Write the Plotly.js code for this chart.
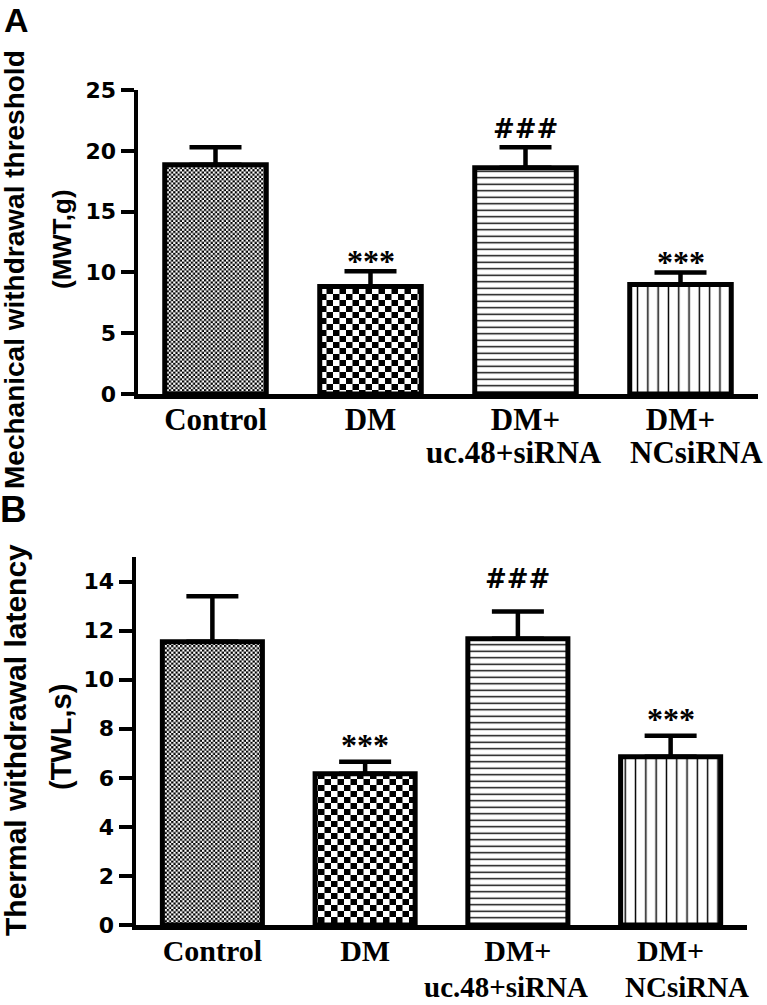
<!DOCTYPE html>
<html>
<head>
<meta charset="utf-8">
<script src="https://cdn.plot.ly/plotly-3.0.1.min.js"></script>
<style>
  html, body { margin: 0; padding: 0; background: #fff; }
  #chart { width: 767px; height: 1005px; }
</style>
</head>
<body>
<div id="chart"></div>
<script>
// ---- data ----
const groups   = ['Control', 'DM', 'DM+uc.48+siRNA', 'DM+NCsiRNA'];
const tickLine1 = ['Control', 'DM', 'DM+', 'DM+'];
const tickLine2 = ['', '', 'uc.48+siRNA', 'NCsiRNA'];

const mwtMean = [18.85, 8.85, 18.6, 9.0];
const mwtSem  = [1.45, 1.25, 1.7, 1.0];
const mwtSig  = ['', '***', '###', '***'];

const twlMean = [11.55, 6.16, 11.67, 6.86];
const twlSem  = [1.85, 0.49, 1.11, 0.85];
const twlSig  = ['', '***', '###', '***'];

const titleA1 = 'Mechanical withdrawal threshold';
const titleA2 = '(MWT,g)';
const titleB1 = 'Thermal withdrawal latency';
const titleB2 = '(TWL,s)';

// ---- styling ----
const W = 767, H = 1005;
const px = v => v / W;
const py = v => 1 - v / H;
const zeros = groups.map(() => 0);

const patShape = ['.', '.', '-', '|'];
const patSize  = [4.4, 13, 6.5, 10.3];
const patSol   = [0.5, 0.5, 0.21, 0.14];
const checkerCells = [[2.2, 2.2], [6.5, 6], null, null];
const line2Shift = [0, 0, -12, 16];

const sansB = 'Liberation Sans, Arial, sans-serif';
const serifB = 'Liberation Serif, Times New Roman, serif';
const tickFont = {family: 'DejaVu Sans, sans-serif', size: 22, color: '#000', weight: 'bold'};
const catFont = {family: serifB, size: 31, color: '#000', weight: 'bold'};

function barTrace(y, err, xa, ya) {
  return {
    type: 'bar', x: groups, y: y, xaxis: xa, yaxis: ya,
    width: 0.655,
    marker: {
      color: 'white',
      line: {color: '#000', width: 5},
      pattern: {shape: patShape, size: patSize, solidity: patSol,
                fgcolor: '#000', bgcolor: '#fff', fillmode: 'replace'}
    },
    error_y: {type: 'data', symmetric: false, array: err, arrayminus: zeros,
              color: '#000', thickness: 4.5, width: 26},
    showlegend: false, hoverinfo: 'none'
  };
}

const data = [barTrace(mwtMean, mwtSem, 'x', 'y'), barTrace(twlMean, twlSem, 'x2', 'y2')];

function xAxis(dom, anchor, standoff, size) {
  return {domain: dom, anchor: anchor, type: 'category', range: [-0.5, 3.5],
          showline: true, linecolor: '#000', linewidth: 4.5, ticks: '',
          tickvals: groups, ticktext: tickLine1,
          tickfont: Object.assign({}, catFont, {size: size}),
          ticklabelstandoff: standoff,
          showgrid: false, zeroline: false, fixedrange: true};
}
function yAxis(dom, anchor, range, dtick) {
  return {domain: dom, anchor: anchor, range: range, dtick: dtick, tick0: 0,
          showline: true, linecolor: '#000', linewidth: 4.5,
          ticks: 'outside', ticklen: 13, tickwidth: 4, tickcolor: '#000',
          tickfont: tickFont, showgrid: false, zeroline: false, fixedrange: true};
}

const annotations = [];
function addPanelText(xref, yref, means, sems, sig, starShift, hashShift, line2Y, line2Size) {
  groups.forEach((g, i) => {
    if (sig[i]) {
      const isHash = sig[i].indexOf('#') >= 0;
      annotations.push({
        xref: xref, yref: yref, x: g, y: means[i] + sems[i], text: sig[i],
        showarrow: false, yanchor: 'middle', yshift: isHash ? hashShift : starShift,
        font: isHash ? {family: 'DejaVu Sans, sans-serif', size: 26, color: '#000', weight: 'bold'}
                     : {family: serifB, size: 32, color: '#000', weight: 'bold'}
      });
    }
    if (tickLine2[i]) {
      annotations.push({xref: xref, yref: 'paper', x: g, y: py(line2Y), text: tickLine2[i],
        showarrow: false, yanchor: 'middle', xshift: line2Shift[i],
        font: Object.assign({}, catFont, {size: line2Size})});
    }
  });
}
addPanelText('x', 'y', mwtMean, mwtSem, mwtSig, 10, 18, 452, 31);
addPanelText('x2', 'y2', twlMean, twlSem, twlSig, 17, 32, 987, 29);

function rotText(text, x, y, size) {
  annotations.push({xref: 'paper', yref: 'paper', x: px(x), y: py(y), text: text,
    textangle: -90, showarrow: false, xanchor: 'center', yanchor: 'middle',
    font: {family: sansB, size: size, color: '#000', weight: 'bold'}});
}
rotText(titleA1, 14, 270, 28);
rotText(titleA2, 62, 239, 26);
rotText(titleB1, 15, 740, 30);
rotText(titleB2, 61, 737, 29);

annotations.push({xref: 'paper', yref: 'paper', x: px(16), y: py(20), text: 'A', showarrow: false,
  xanchor: 'center', yanchor: 'middle', font: {family: sansB, size: 34, color: '#000', weight: 'bold'}});
annotations.push({xref: 'paper', yref: 'paper', x: px(14), y: py(509), text: 'B', showarrow: false,
  xanchor: 'center', yanchor: 'middle', font: {family: sansB, size: 37, color: '#000', weight: 'bold'}});

const layout = {
  width: W, height: H,
  margin: {l: 0, r: 0, t: 0, b: 0},
  paper_bgcolor: '#fff', plot_bgcolor: '#fff',
  showlegend: false,
  xaxis: xAxis([px(138), px(758)], 'y', -6, 31),
  yaxis: yAxis([py(394), py(90)], 'x', [0, 25], 5),
  xaxis2: xAxis([px(136), px(747)], 'y2', -5, 30),
  yaxis2: yAxis([py(925), py(557)], 'x2', [0, 15], 2),
  annotations: annotations
};

function addChecker(defs, id, cw, ch) {
  const ns = 'http://www.w3.org/2000/svg';
  const p = document.createElementNS(ns, 'pattern');
  p.setAttribute('id', id);
  p.setAttribute('patternUnits', 'userSpaceOnUse');
  p.setAttribute('width', 2 * cw);
  p.setAttribute('height', 2 * ch);
  const mk = (x, y, w, h, f) => {
    const r = document.createElementNS(ns, 'rect');
    r.setAttribute('x', x); r.setAttribute('y', y);
    r.setAttribute('width', w); r.setAttribute('height', h);
    r.setAttribute('fill', f);
    p.appendChild(r);
  };
  mk(0, 0, 2 * cw, 2 * ch, '#fff');
  mk(0, 0, cw, ch, '#000');
  mk(cw, ch, cw, ch, '#000');
  defs.appendChild(p);
}

const gd = document.getElementById('chart');
Plotly.newPlot(gd, data, layout, {staticPlot: true, displayModeBar: false}).then(function () {
  const defs = gd.querySelector('svg.main-svg defs');
  checkerCells.forEach((c, i) => { if (c) addChecker(defs, 'checker' + i, c[0], c[1]); });
  gd.querySelectorAll('.barlayer .trace').forEach(function (tr) {
    tr.querySelectorAll('.point path').forEach(function (p, i) {
      if (checkerCells[i]) p.style.fill = 'url(#checker' + i + ')';
    });
  });
});
</script>
</body>
</html>
